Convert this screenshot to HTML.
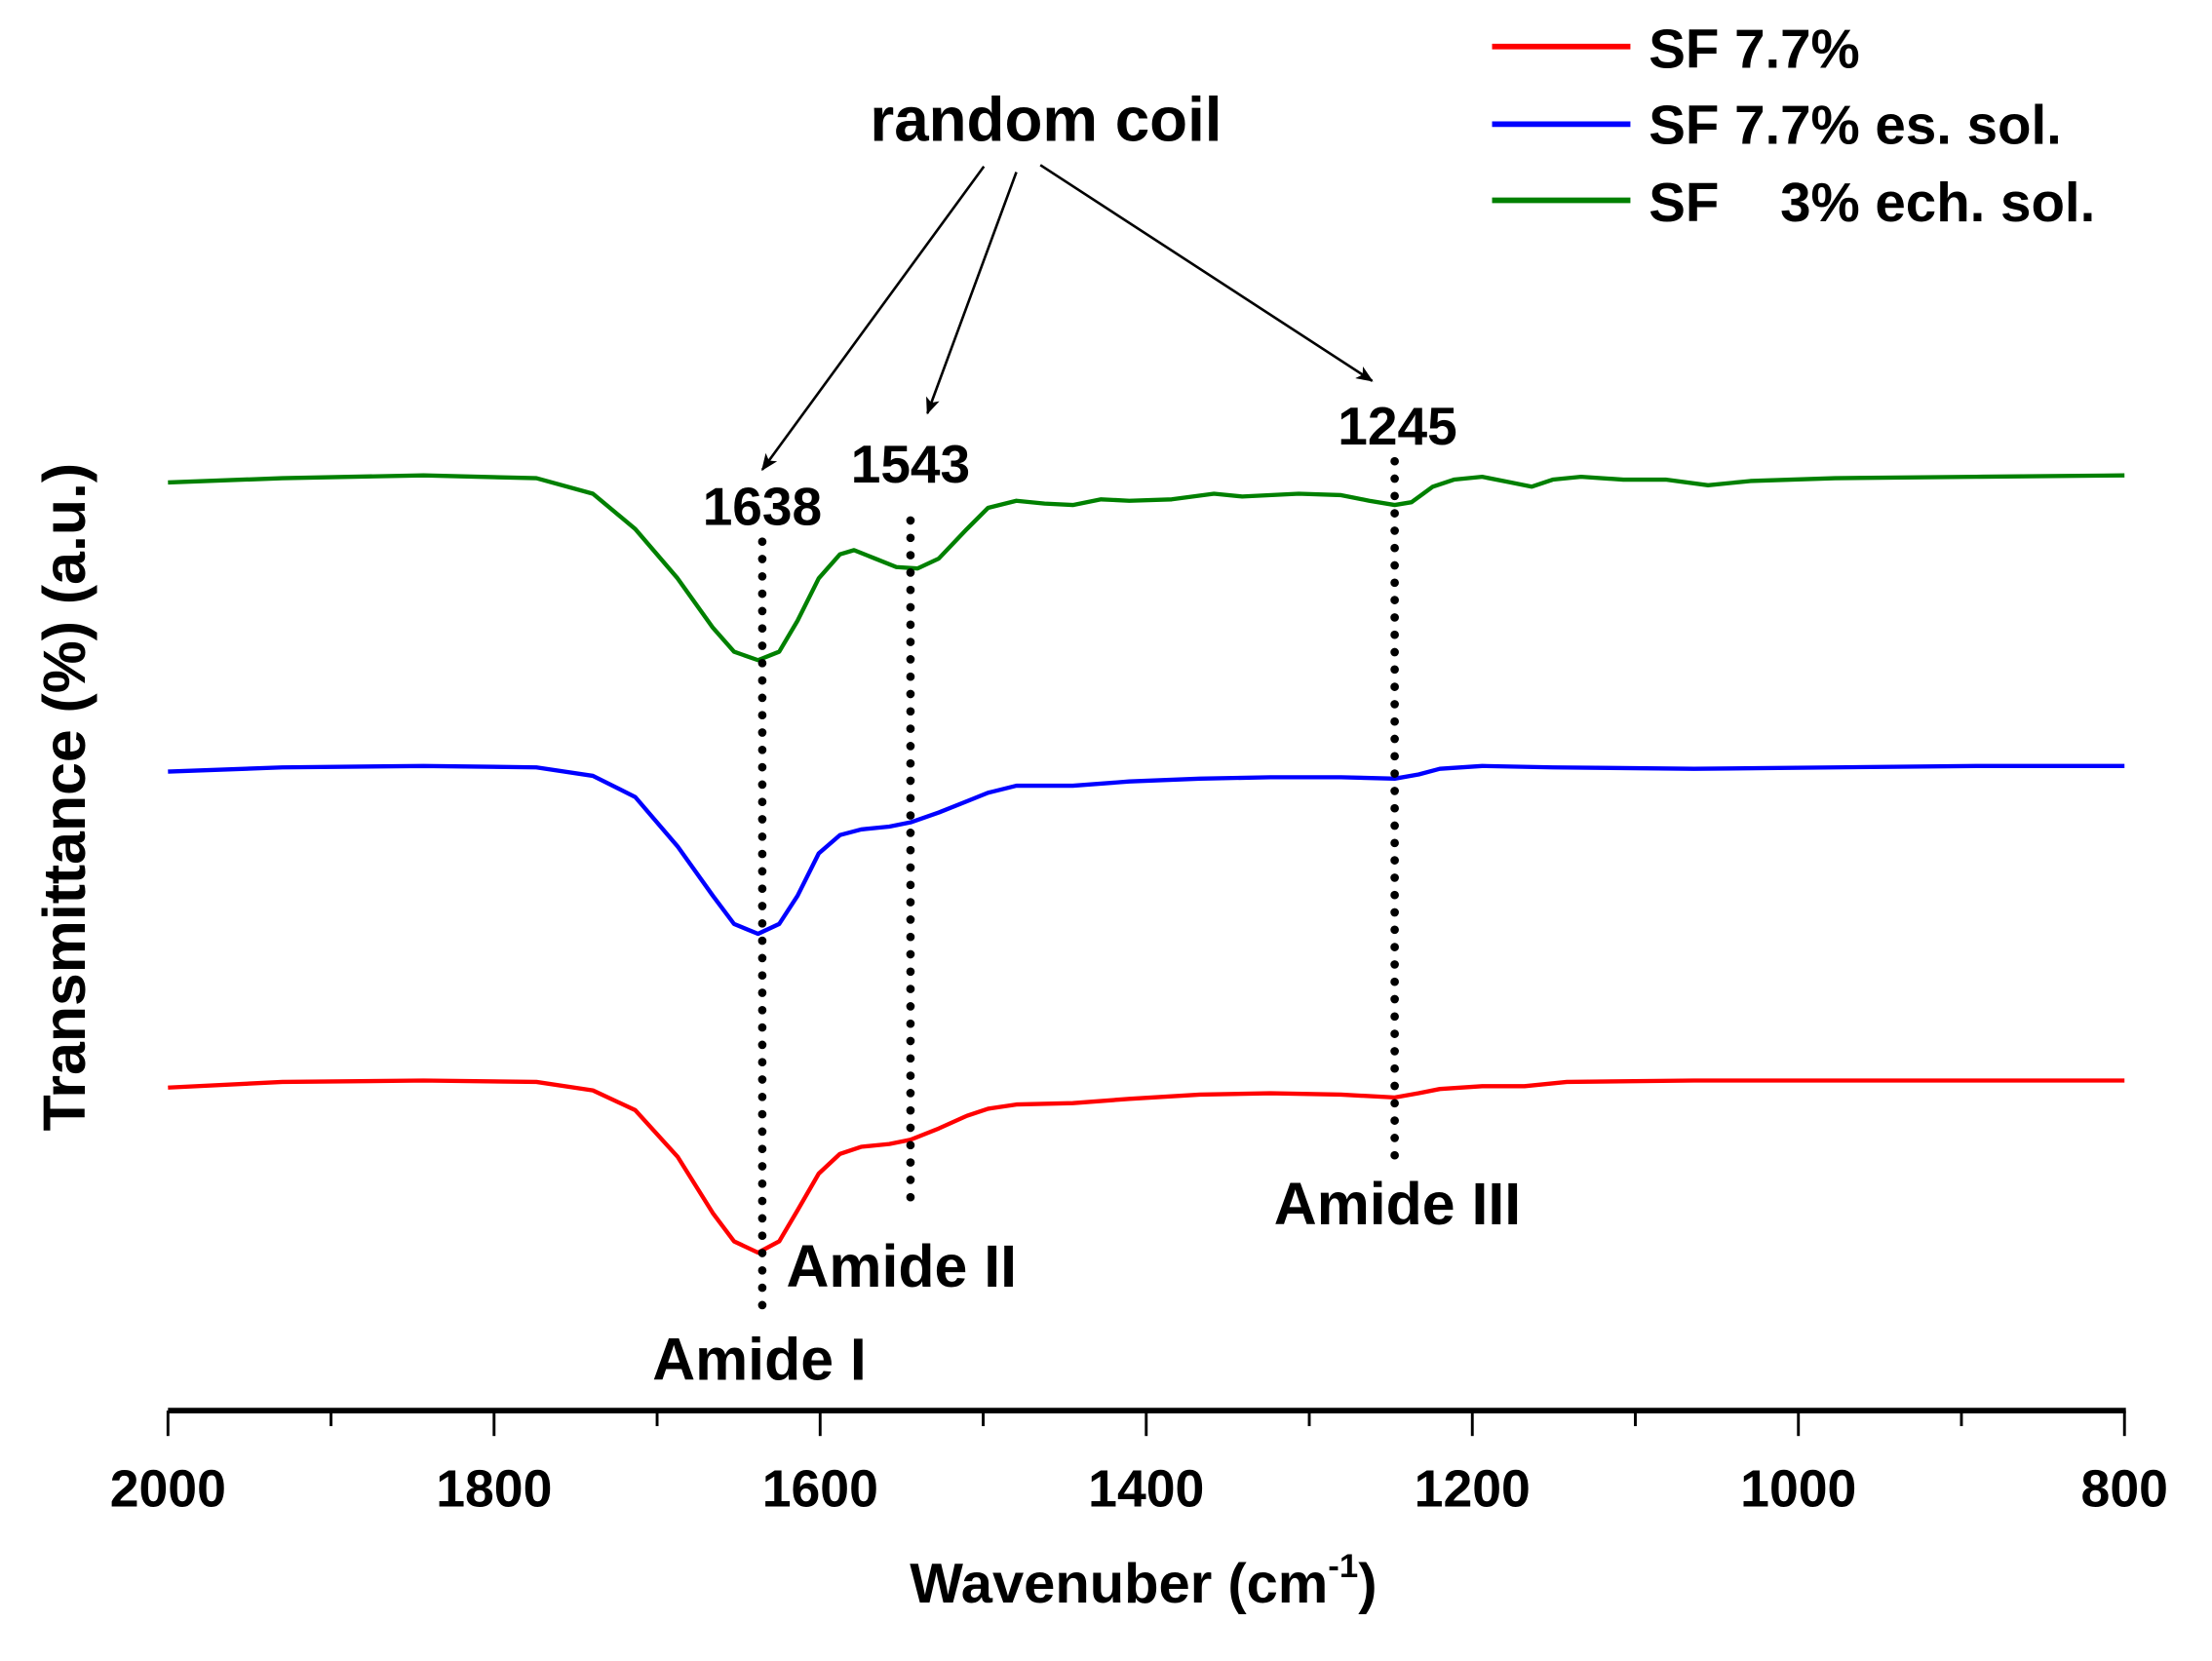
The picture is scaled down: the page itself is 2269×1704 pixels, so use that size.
<!DOCTYPE html>
<html><head><meta charset="utf-8"><style>
html,body{margin:0;padding:0;background:#fff;}
svg{display:block;}
text{font-family:"Liberation Sans",sans-serif;font-weight:bold;fill:#000;}
</style></head><body>
<svg width="2269" height="1704" viewBox="0 0 1567 1177.5" preserveAspectRatio="none" xmlns="http://www.w3.org/2000/svg">
<defs><marker id="ah" markerWidth="12" markerHeight="10" refX="11" refY="5" orient="auto" markerUnits="userSpaceOnUse"><path d="M0,0 L12,5 L0,10 L3,5 z" fill="#000"/></marker></defs>
<line x1="119" y1="1000" x2="1506" y2="1000" stroke="#000" stroke-width="4"/>
<g stroke="#000" stroke-width="2">
<line x1="119" y1="1000" x2="119" y2="1018"/><line x1="350" y1="1000" x2="350" y2="1018"/><line x1="581" y1="1000" x2="581" y2="1018"/><line x1="812" y1="1000" x2="812" y2="1018"/><line x1="1043" y1="1000" x2="1043" y2="1018"/><line x1="1274" y1="1000" x2="1274" y2="1018"/><line x1="1505" y1="1000" x2="1505" y2="1018"/>
<line x1="234.5" y1="1000" x2="234.5" y2="1011"/><line x1="465.5" y1="1000" x2="465.5" y2="1011"/><line x1="696.5" y1="1000" x2="696.5" y2="1011"/><line x1="927.5" y1="1000" x2="927.5" y2="1011"/><line x1="1158.5" y1="1000" x2="1158.5" y2="1011"/><line x1="1389.5" y1="1000" x2="1389.5" y2="1011"/>
</g>
<g font-size="37" text-anchor="middle">
<text x="119" y="1068">2000</text><text x="350" y="1068">1800</text><text x="581" y="1068">1600</text><text x="812" y="1068">1400</text><text x="1043" y="1068">1200</text><text x="1274" y="1068">1000</text><text x="1505" y="1068">800</text>
</g>
<text x="810" y="1136" font-size="40" text-anchor="middle">Wavenuber (cm<tspan font-size="24" dy="-18">-1</tspan><tspan dy="18">)</tspan></text>
<text transform="translate(60,565) rotate(-90)" font-size="42" text-anchor="middle">Transmittance (%) (a.u.)</text>
<g fill="none" stroke-width="3" stroke-linejoin="round">
<polyline stroke="#008000" points="119,342 200,339 300,337 380,339 420,350 450,375 480,410 505,445 520,462 537,468 552,462 565,440 580,410 595,393 605,390 620,396 635,402 650,403 665,396 685,375 700,360 720,355 740,357 760,358 780,354 800,355 830,354 860,350 880,352 920,350 950,351 970,355 988,358 1000,356 1015,345 1030,340 1050,338 1070,342 1085,345 1100,340 1120,338 1150,340 1180,340 1210,344 1240,341 1300,339 1400,338 1505,337"/>
<polyline stroke="#0000ff" points="119,547 200,544 300,543 380,544 420,550 450,565 480,600 505,635 520,655 537,662 552,655 565,635 580,605 595,592 610,588 630,586 645,583 665,576 685,568 700,562 720,557 760,557 800,554 850,552 900,551 950,551 988,552 1005,549 1020,545 1050,543 1100,544 1200,545 1300,544 1400,543 1505,543"/>
<polyline stroke="#ff0000" points="119,771 200,767 300,766 380,767 420,773 450,787 480,820 505,860 520,880 537,888 552,880 565,858 580,832 595,818 610,813 630,811 645,808 665,800 685,791 700,786 720,783 760,782 800,779 850,776 900,775 950,776 988,778 1005,775 1020,772 1050,770 1080,770 1110,767 1200,766 1300,766 1400,766 1505,766"/>
</g>
<g stroke="#000" stroke-width="6" stroke-linecap="round" stroke-dasharray="0 12.3">
<line x1="540" y1="384" x2="540" y2="930"/>
<line x1="645" y1="369" x2="645" y2="860"/>
<line x1="988" y1="327" x2="988" y2="820"/>
</g>
<g stroke="#000" stroke-width="1.8">
<line x1="697" y1="118" x2="540" y2="333" marker-end="url(#ah)"/>
<line x1="720" y1="122" x2="657" y2="293" marker-end="url(#ah)"/>
<line x1="737" y1="117" x2="972" y2="270" marker-end="url(#ah)"/>
</g>
<text x="741" y="100" font-size="44" text-anchor="middle">random coil</text>
<g font-size="38" text-anchor="middle">
<text x="540" y="372">1638</text><text x="645" y="342">1543</text><text x="990" y="315">1245</text>
</g>
<g font-size="42">
<text x="538" y="978" text-anchor="middle">Amide I</text>
<text x="557" y="912">Amide II</text>
<text x="990" y="868" text-anchor="middle">Amide III</text>
</g>
<g stroke-width="4">
<line x1="1057" y1="33" x2="1155" y2="33" stroke="#ff0000"/>
<line x1="1057" y1="88" x2="1155" y2="88" stroke="#0000ff"/>
<line x1="1057" y1="142" x2="1155" y2="142" stroke="#008000"/>
</g>
<g font-size="39">
<text x="1168" y="48">SF 7.7%</text>
<text x="1168" y="102">SF 7.7% es. sol.</text>
<text x="1168" y="157" xml:space="preserve">SF    3% ech. sol.</text>
</g>
</svg>
</body></html>
